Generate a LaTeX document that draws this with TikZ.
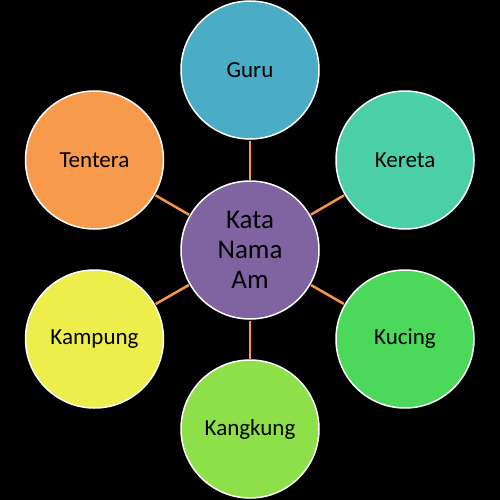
\documentclass[tikz,border=0pt]{standalone}
\usepackage{fontspec}
\setmainfont{Carlito}
\definecolor{cguru}{HTML}{4BACC6}
\definecolor{ckereta}{HTML}{4BCFA6}
\definecolor{ckucing}{HTML}{4CD95B}
\definecolor{ckangkung}{HTML}{8EE04A}
\definecolor{ckampung}{HTML}{EDEE4B}
\definecolor{ctentera}{HTML}{F79A4B}
\definecolor{cpusat}{HTML}{8064A2}
\definecolor{clink}{HTML}{F79646}
\tikzset{
  bubble/.style={circle, draw=white, line width=1.5pt, minimum size=138pt, inner sep=0pt, text=black, font=\fontsize{23}{27}\selectfont, align=center},
  hub/.style={bubble, font=\fontsize{27}{30}\selectfont},
  link/.style={draw=clink, line width=2.5pt}
}
\begin{document}
\begin{tikzpicture}[x=1pt,y=-1pt]
\fill[black] (0,0) rectangle (500,500);
\useasboundingbox (0,0) rectangle (500,500);
\node[hub, fill=cpusat] (pusat) at (250,250) {Kata\\Nama\\Am};
\node[bubble, fill=cguru] (guru) at (250,70) {Guru};
\node[bubble, fill=ckereta] (kereta) at (405,160) {Kereta};
\node[bubble, fill=ckucing] (kucing) at (405,339) {Kucing};
\node[bubble, fill=ckangkung] (kangkung) at (250,429) {Kangkung};
\node[bubble, fill=ckampung] (kampung) at (94.5,339) {Kampung};
\node[bubble, fill=ctentera] (tentera) at (94.5,160) {Tentera};
\foreach \n in {guru,kereta,kucing,kangkung,kampung,tentera}{
  \draw[link, shorten <=0.75pt, shorten >=0.75pt] (pusat) -- (\n);
}
\end{tikzpicture}
\end{document}
